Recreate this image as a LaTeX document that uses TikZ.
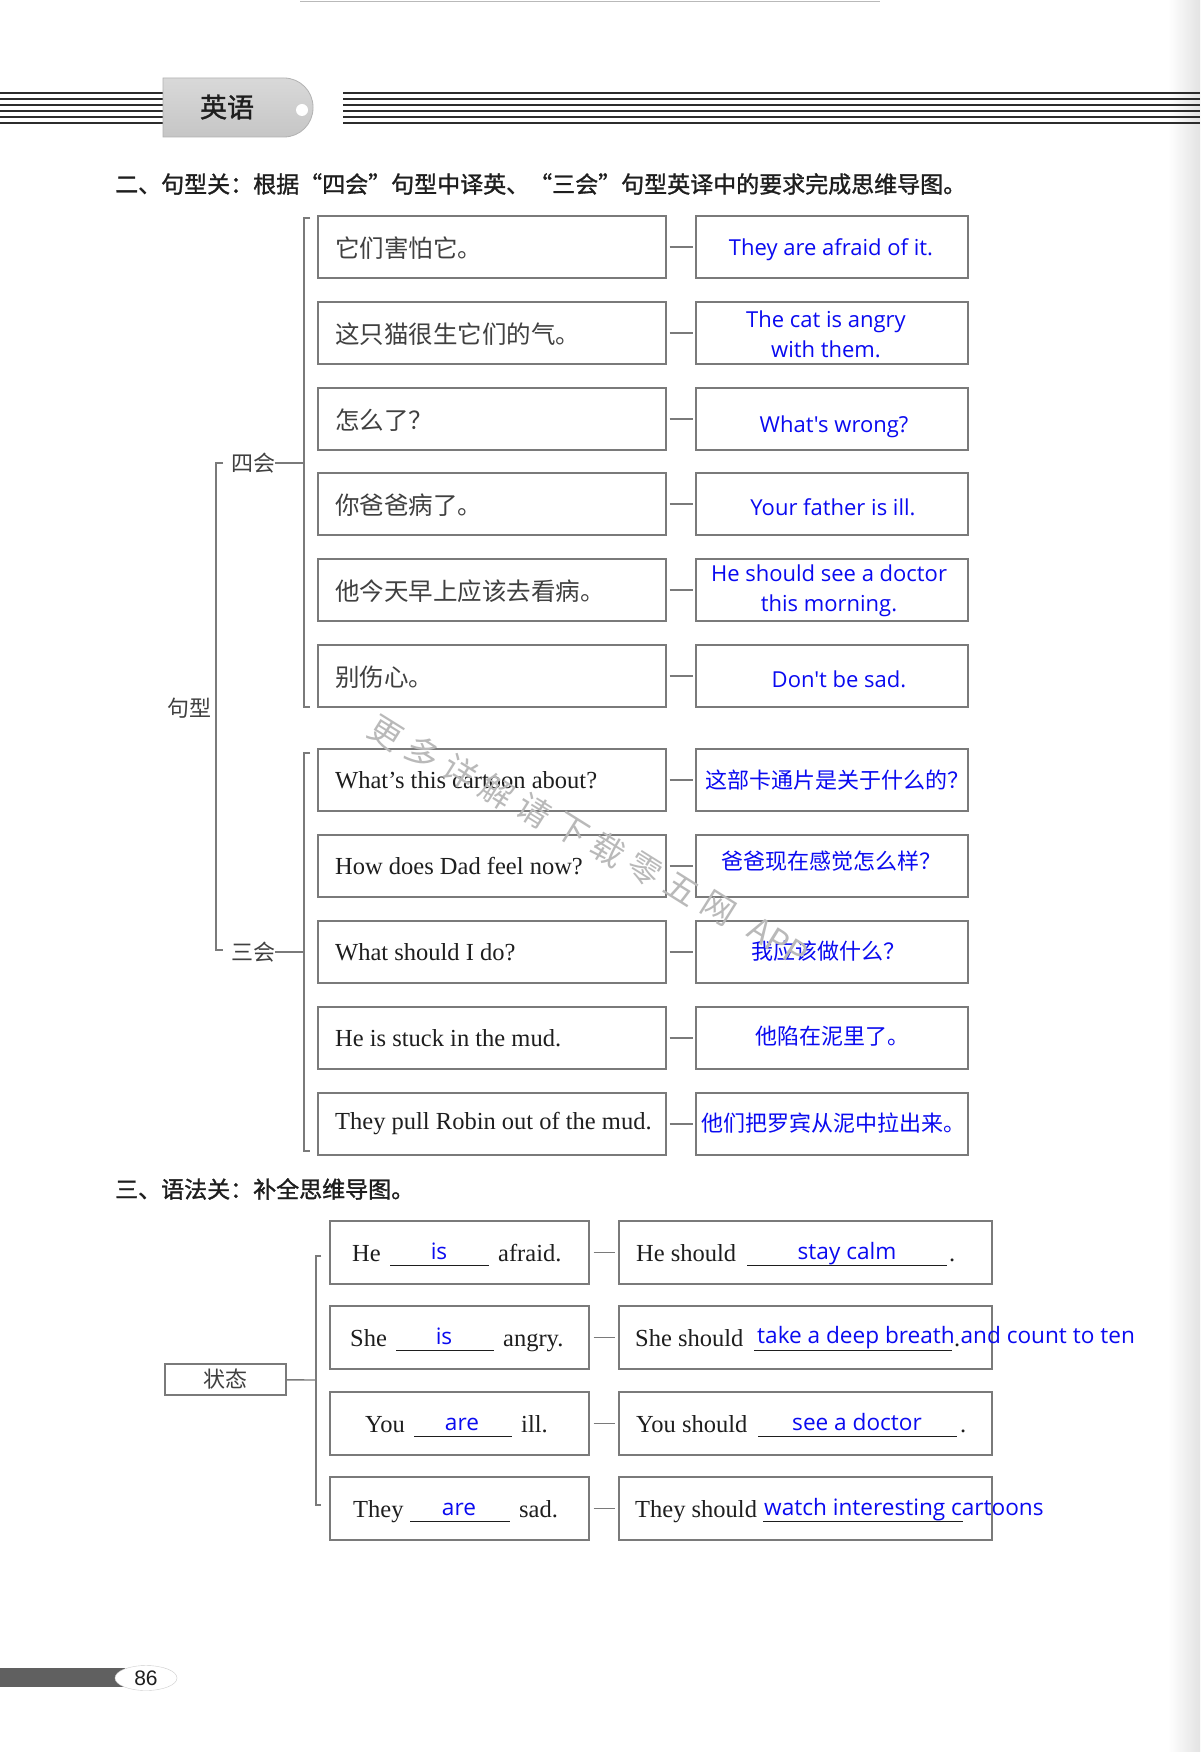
\documentclass[tikz,border=0pt]{standalone}
\usepackage{fontspec}
\usetikzlibrary{shapes.geometric}
\setmainfont{Liberation Serif}
\newfontfamily\hei[FakeBold=1.3]{Noto Sans CJK SC}
\newfontfamily\heireg{Noto Sans CJK SC}
\newfontfamily\kai{Noto Sans CJK SC}
\newfontfamily\song{Noto Sans CJK SC}
\newfontfamily\ans{Open Sans}
\newfontfamily\arialf{Liberation Sans}
\definecolor{ink}{HTML}{1E1E1E}
\definecolor{ansblue}{HTML}{0A0AF0}
\definecolor{frame}{HTML}{7A7A7A}
\definecolor{stripe}{HTML}{2C2C2C}
\begin{document}
\begin{tikzpicture}[x=1pt,y=-1pt,
  boxl/.style={draw=frame, line width=1.4pt, minimum width=348pt, minimum height=62pt, inner sep=0pt},
  boxr/.style={draw=frame, line width=1.4pt, minimum width=272pt, minimum height=62pt, inner sep=0pt},
  boxs/.style={draw=frame, line width=1.4pt, minimum width=259pt, minimum height=63pt, inner sep=0pt},
  boxt/.style={draw=frame, line width=1.4pt, minimum width=373pt, minimum height=63pt, inner sep=0pt},
  kaitext/.style={anchor=west, inner sep=0pt, text=ink!85, font=\kai\fontsize{24.5}{28}\selectfont},
  sertext/.style={anchor=west, inner sep=0pt, text=ink, font=\fontsize{24.5}{28}\selectfont},
  sbase/.style={anchor=base west, inner sep=0pt, text=ink, font=\fontsize{24.5}{28}\selectfont},
  anstext/.style={inner sep=0pt, text=ansblue, align=center, font=\ans\fontsize{22}{29.5}\selectfont},
  anszh/.style={inner sep=0pt, text=ansblue, font=\heireg\fontsize{22}{26}\selectfont},
  ansbase/.style={anchor=base, inner sep=0pt, text=ansblue, font=\ans\fontsize{22.6}{26}\selectfont},
  label/.style={inner sep=0pt, text=ink!85, font=\song\fontsize{22}{26}\selectfont},
  conn/.style={draw=frame, line width=1.4pt},
  brk/.style={draw=frame, line width=1.4pt},
  uline/.style={draw=ink, line width=0.9pt},
  wm/.style={inner sep=0pt, text=gray!55, rotate=-32, font=\heireg\fontsize{33}{33}\selectfont}
]
\useasboundingbox (0,0) rectangle (1200,1752);
\fill[white] (0,0) rectangle (1200,1752);
\shade[left color=white, right color=gray!22] (1168,0) rectangle (1200,1752);
\draw[gray!55, line width=1.5pt] (300,1.5) -- (880,1.5);

% header
\foreach \yy in {93,99,105,111,117,123} {
  \draw[stripe, line width=2.2pt] (0,\yy) -- (163,\yy);
  \draw[stripe, line width=2.2pt] (343,\yy) -- (1200,\yy);
}
\shade[top color=gray!30, bottom color=gray!45, draw=gray!60, line width=0.8pt]
  (163,78) [rounded corners=29pt] -- (313,78) -- (313,137) [sharp corners] -- (163,137) -- cycle;
\fill[white] (302,110) circle (6);
\node[inner sep=0pt, text=ink, font=\hei\fontsize{27}{30}\selectfont] (sub) at (227,107) {英语};

% section titles
\node[anchor=west, inner sep=0pt, text=ink, font=\hei\fontsize{23}{26}\selectfont] (title1) at (115,184)
  {二、句型关：根据“四会”句型中译英、“三会”句型英译中的要求完成思维导图。};
\node[anchor=west, inner sep=0pt, text=ink, font=\hei\fontsize{23}{26}\selectfont] (title2) at (115,1189)
  {三、语法关：补全思维导图。};

% section 2 boxes
\node[boxl] (L1) at (492,247) {};
\node[boxl] (L2) at (492,333) {};
\node[boxl] (L3) at (492,419) {};
\node[boxl] (L4) at (492,504) {};
\node[boxl] (L5) at (492,590) {};
\node[boxl] (L6) at (492,676) {};
\node[boxl] (L7) at (492,780) {};
\node[boxl] (L8) at (492,866) {};
\node[boxl] (L9) at (492,952) {};
\node[boxl] (L10) at (492,1038) {};
\node[boxl] (L11) at (492,1124) {};
\node[boxr] (R1) at (832,247) {};
\node[boxr] (R2) at (832,333) {};
\node[boxr] (R3) at (832,419) {};
\node[boxr] (R4) at (832,504) {};
\node[boxr] (R5) at (832,590) {};
\node[boxr] (R6) at (832,676) {};
\node[boxr] (R7) at (832,780) {};
\node[boxr] (R8) at (832,866) {};
\node[boxr] (R9) at (832,952) {};
\node[boxr] (R10) at (832,1038) {};
\node[boxr] (R11) at (832,1124) {};
\foreach \i in {1,...,11} { \draw[conn, shorten <=3pt, shorten >=2pt] (L\i) -- (R\i); }

\node[kaitext] (tL1) at (335,248) {它们害怕它。};
\node[kaitext] (tL2) at (335,334) {这只猫很生它们的气。};
\node[kaitext] (tL3) at (335,420) {怎么了？};
\node[kaitext] (tL4) at (335,505) {你爸爸病了。};
\node[kaitext] (tL5) at (335,591) {他今天早上应该去看病。};
\node[kaitext] (tL6) at (335,677) {别伤心。};
\node[sertext] (tL7) at (335,780) {What’s this cartoon about?};
\node[sertext] (tL8) at (335,866) {How does Dad feel now?};
\node[sertext] (tL9) at (335,952) {What should I do?};
\node[sertext] (tL10) at (335,1038) {He is stuck in the mud.};
\node[sertext] (tL11) at (335,1124) {They pull Robin out of the mud.};

\node[anstext] (tR1) at (831,250) {They are afraid of it.};
\node[anstext] (tR2) at (826,334.5) {The cat is angry\\with them.};
\node[anstext] (tR3) at (834,427) {What's wrong?};
\node[anstext] (tR4) at (833,507) {Your father is ill.};
\node[anstext] (tR5) at (829,591) {He should see a doctor\\this morning.};
\node[anstext] (tR6) at (839,679) {Don't be sad.};
\node[anszh] (tR7) at (837,780) {这部卡通片是关于什么的？};
\node[anszh] (tR8) at (831,861) {爸爸现在感觉怎么样？};
\node[anszh] (tR9) at (828,951) {我应该做什么？};
\node[anszh] (tR10) at (832,1036) {他陷在泥里了。};
\node[anszh] (tR11) at (833,1123) {他们把罗宾从泥中拉出来。};

% brackets
\draw[brk] (310,218) -- (304,218) -- (304,707) -- (310,707);
\draw[brk] (310,753) -- (304,753) -- (304,1151) -- (310,1151);
\draw[brk] (223,463) -- (216,463) -- (216,950) -- (223,950);
\node[label] (sihui) at (253,463) {四会};
\node[label] (sanhui) at (253,952) {三会};
\node[label] (juxing) at (189,708) {句型};
\coordinate (b4) at (304,463);
\coordinate (b3) at (304,952);
\draw[conn, line width=1.2pt] (sihui.east) -- (b4);
\draw[conn, line width=1.2pt] (sanhui.east) -- (b3);

% section 3
\node[draw=frame, line width=1.4pt, minimum width=121pt, minimum height=31pt, inner sep=0pt, text=ink!85, font=\song\fontsize{22}{26}\selectfont] (zt) at (225.5,1379.5) {状态};
\draw[brk] (321,1256) -- (316,1256) -- (316,1505) -- (321,1505);
\coordinate (bz) at (316,1380);
\draw[conn] (zt) -- (bz);

\node[boxs] (S1) at (459.5,1252.5) {};
\node[boxs] (S2) at (459.5,1337.5) {};
\node[boxs] (S3) at (459.5,1423.5) {};
\node[boxs] (S4) at (459.5,1508.5) {};
\node[boxt] (T1) at (805.5,1252.5) {};
\node[boxt] (T2) at (805.5,1337.5) {};
\node[boxt] (T3) at (805.5,1423.5) {};
\node[boxt] (T4) at (805.5,1508.5) {};
\foreach \i in {1,...,4} { \draw[conn, shorten <=4pt, shorten >=3pt] (S\i) -- (T\i); }

% row 1
\node[sbase] (a1) at (352,1261) {He};
\draw[uline] (390,1265) -- (489,1265);
\node[ansbase] (x1) at (439,1259) {is};
\node[sbase] (p1) at (498,1261) {afraid.};
\node[sbase] (h1) at (636,1261) {He should};
\draw[uline] (747,1265) -- (947,1265);
\node[ansbase] (y1) at (847,1259) {stay calm};
\node[sbase] (d1) at (949,1261) {.};
% row 2
\node[sbase] (a2) at (350,1346) {She};
\draw[uline] (396,1350) -- (494,1350);
\node[ansbase] (x2) at (444,1344) {is};
\node[sbase] (p2) at (503,1346) {angry.};
\node[sbase] (h2) at (635,1346) {She should};
\draw[uline] (754,1350) -- (952,1350);
\node[ansbase, anchor=base west] (y2) at (757,1343) {take a deep breath and count to ten};
\node[sbase] (d2) at (954,1346) {.};
% row 3
\node[sbase] (a3) at (365,1432) {You};
\draw[uline] (414,1436) -- (512,1436);
\node[ansbase] (x3) at (462,1430) {are};
\node[sbase] (p3) at (521,1432) {ill.};
\node[sbase] (h3) at (636,1432) {You should};
\draw[uline] (758,1436) -- (957,1436);
\node[ansbase] (y3) at (857,1430) {see a doctor};
\node[sbase] (d3) at (960,1432) {.};
% row 4
\node[sbase] (a4) at (353,1517) {They};
\draw[uline] (410,1521) -- (510,1521);
\node[ansbase] (x4) at (459,1515) {are};
\node[sbase] (p4) at (519,1517) {sad.};
\node[sbase] (h4) at (635,1517) {They should};
\draw[uline] (763,1521) -- (963,1521);
\node[ansbase, anchor=base west] (y4) at (764,1515) {watch interesting cartoons};

% watermark
\foreach \c [count=\k from 0] in {更,多,详,解,请,下,载,零,五,网} {
  \node[wm] (wm\k) at ({386+37*\k},{733+19.5*\k}) {\c};
}
\node[wm, anchor=west] (wmapp) at (752,925) {APP};

% page number
\fill[gray!75!black] (0,1668) rectangle (125,1687);
\node[ellipse, draw=gray!40, fill=white, minimum width=62pt, minimum height=25pt, inner sep=0pt, font=\arialf\fontsize{21}{24}\selectfont, text=ink] (pg) at (146,1678) {86};
\end{tikzpicture}
\end{document}
